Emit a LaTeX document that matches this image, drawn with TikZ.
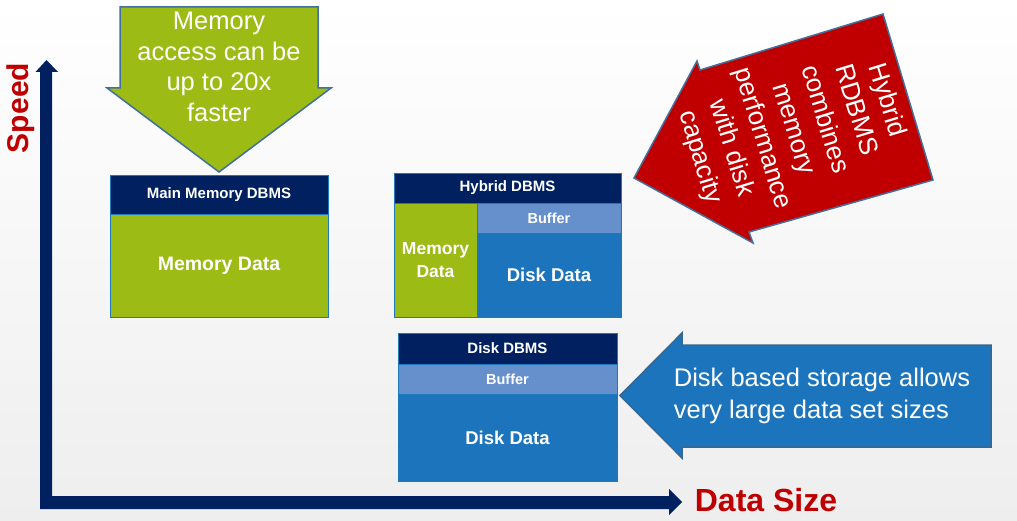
\documentclass[tikz,border=0pt]{standalone}
\usepackage{fontspec}
\setmainfont{Liberation Sans}
\definecolor{navy}{RGB}{0,32,96}
\definecolor{olive}{RGB}{156,187,20}
\definecolor{diskblue}{RGB}{28,117,188}
\definecolor{bufblue}{RGB}{102,144,204}
\definecolor{darkred}{RGB}{192,0,0}
\definecolor{edgeblue}{RGB}{65,113,156}
\definecolor{boxedge}{RGB}{30,120,190}
\definecolor{bgbot}{RGB}{238,238,238}
\definecolor{bgmid}{RGB}{252,252,252}
\begin{document}
\begin{tikzpicture}[x=1pt,y=-1pt,
  cell/.style={draw=boxedge, line width=0.8pt, inner sep=0pt, text=white, font=\bfseries\fontsize{15}{17}\selectfont},
  callout/.style={draw=edgeblue, line width=1.5pt, line join=miter},
  calltext/.style={text=white, inner sep=0pt, align=center}]
\useasboundingbox (0,0) rectangle (1017,521);
\shade[top color=white, middle color=bgmid, bottom color=bgbot] (0,0) rectangle (1017,521);

% axes
\fill[navy] (40,509) -- (40,72) -- (35.5,72) -- (46.5,60) -- (58,72) -- (52,72) -- (52,496)
  -- (669,496) -- (669,489) -- (682,502) -- (669,515) -- (669,509) -- cycle;
\node[text=darkred, rotate=90, inner sep=0pt, font=\bfseries\fontsize{30}{34}\selectfont] (speed) at (20.5,108) {Speed};
\node[text=darkred, inner sep=0pt, font=\bfseries\fontsize{32}{36}\selectfont] (size) at (766,500) {Data Size};

% green callout
\filldraw[callout, fill=olive] (120,7) -- (318,7) -- (318,88) -- (331,88) -- (219,172) -- (107,88) -- (120,88) -- cycle;
\node[calltext, font=\fontsize{25.5}{30.5}\selectfont] (gtext) at (219,67) {Memory\\access can be\\up to 20x\\faster};

% red callout
\filldraw[callout, fill=darkred] (634,178) -- (697,61) -- (700,70) -- (883,14) -- (933,180) -- (749,232) -- (753,243) -- cycle;
\node[calltext, rotate=-73, font=\fontsize{26}{32.5}\selectfont] (rtext) at (793,129) {Hybrid\\RDBMS\\combines\\memory\\performance\\with disk\\capacity};

% blue callout
\filldraw[callout, draw=edgeblue!90!black, fill=diskblue] (620,395.5) -- (682,333) -- (682,345) -- (991,345) -- (991,447) -- (682,447) -- (682,458) -- cycle;
\node[calltext, align=left, font=\fontsize{25.5}{32}\selectfont] (btext) at (822,396) {Disk based storage allows\\very large data set sizes};

% Main memory DBMS
\node[cell, fill=navy, minimum width=218, minimum height=39] (mmh) at (219,194.5) {Main Memory DBMS};
\node[cell, fill=olive, minimum width=218, minimum height=103, font=\bfseries\fontsize{19.5}{22}\selectfont] (mmd) at (219,265.5) {Memory Data};

% Hybrid DBMS
\node[cell, fill=navy, minimum width=227, minimum height=30] (hyh) at (507.5,188) {Hybrid DBMS};
\node[cell, fill=olive, minimum width=83, minimum height=114, align=center, font=\bfseries\fontsize{17.5}{23}\selectfont] (hym) at (435.5,260) {Memory\\Data};
\node[cell, fill=bufblue, minimum width=144, minimum height=30, font=\bfseries\fontsize{14.5}{17}\selectfont] (hyb) at (549,218) {Buffer};
\node[cell, fill=diskblue, minimum width=144, minimum height=84, font=\bfseries\fontsize{18.5}{22}\selectfont] (hyd) at (549,275) {Disk Data};

% Disk DBMS
\node[cell, fill=navy, minimum width=219, minimum height=31] (dkh) at (507.5,348.5) {Disk DBMS};
\node[cell, fill=bufblue, minimum width=219, minimum height=30, font=\bfseries\fontsize{14.5}{17}\selectfont] (dkb) at (507.5,379) {Buffer};
\node[cell, fill=diskblue, minimum width=219, minimum height=87, font=\bfseries\fontsize{18.5}{22}\selectfont] (dkd) at (507.5,437.5) {Disk Data};
\end{tikzpicture}
\end{document}
